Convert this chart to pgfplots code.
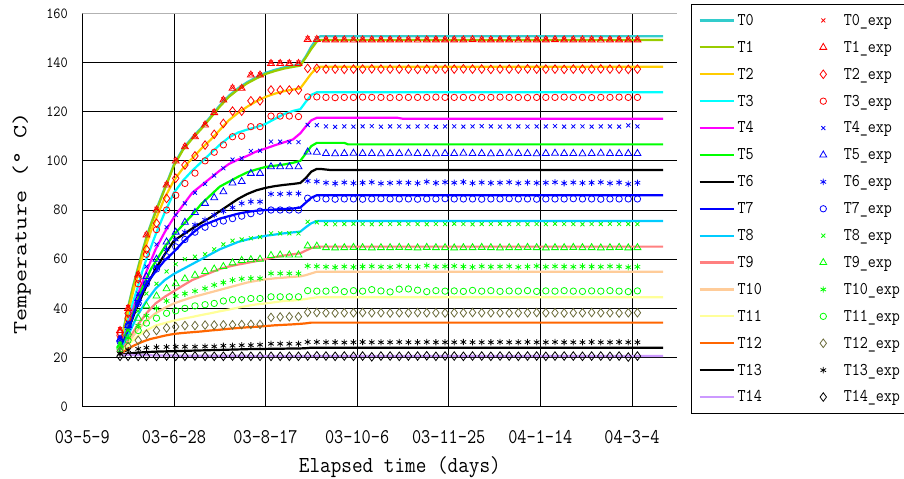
\documentclass[border=0pt]{standalone}
\usepackage{fontspec}
\usepackage{graphicx}
\usepackage{pgfplots}
\usepackage{pgfplotstable}
\pgfplotsset{compat=1.18}

% narrow typewriter face used for every label
\newcommand\cf[2][0.87]{\scalebox{#1}[1]{\ttfamily #2}}

% simulated curves
\definecolor{c0}{HTML}{33CCCC}
\definecolor{c1}{HTML}{99CC00}
\definecolor{c2}{HTML}{FFCC00}
\definecolor{c3}{HTML}{00FFFF}
\definecolor{c4}{HTML}{FF00FF}
\definecolor{c5}{HTML}{00FF00}
\definecolor{c6}{HTML}{000000}
\definecolor{c7}{HTML}{0000FF}
\definecolor{c8}{HTML}{00CCFF}
\definecolor{c9}{HTML}{FF8080}
\definecolor{c10}{HTML}{FFCC99}
\definecolor{c11}{HTML}{FFFF99}
\definecolor{c12}{HTML}{FF6600}
\definecolor{c13}{HTML}{000000}
\definecolor{c14}{HTML}{CC99FF}
% measured points
\definecolor{er}{HTML}{FF0000}
\definecolor{eb}{HTML}{0000FF}
\definecolor{eg}{HTML}{00FF00}
\definecolor{eo}{HTML}{6B6B3A}
\definecolor{ek}{HTML}{000000}

% days after 2003-05-09, simulated temperatures
\pgfplotstableread{
d t0 t1 t2 t3 t4 t5 t6 t7 t8 t9 t10 t11 t12 t13 t14
20 21 21 21 21 21 21 21 21 21 21 21 21 21 21 21
22.5 31.5 31 30 28 27 26.5 26 26 25 24 23.5 23 22.3 21.3 21
25 40.5 40 38 35 33 32 31 31 29 27 26 25 23.5 21.6 21
27.5 48.5 48 46 42 39 37.5 36 36.5 33 30 28.5 27 24.6 21.8 21
30 55.5 55 53 48 45 43 41 42 37 33 31 28.5 25.5 22 20.9
32.5 62.5 62 60 54.5 50 48 45 46 40 35.5 33 30 26.3 22.1 20.9
35 69 68.5 66 60 55 52 49 50 43 38 35 31 27 22.2 20.9
37.5 74.5 74 71.5 65 59.5 56 52.5 52.5 45.5 40 36.5 32 27.6 22.3 20.9
40 79.5 79 76 70 64 59 56 55 48 42 38 33 28 22.4 20.8
45 89 88.5 85 79 71 65 62 59.5 51.5 44.7 40.2 34 28.9 22.5 20.8
50 98.5 98 92 87 77 70 67.5 63 54 47 42 35 29.6 22.6 20.8
55 105 104.5 97 92 82 74 70 67 56 49.3 43.3 35.8 30 22.7 20.7
60 109.5 109 101 96 87 78 72.5 70.5 58 51.5 44.5 36.5 30.3 22.8 20.7
65 113.5 113 105 99.5 90 82.5 74.8 73.5 60 53 45.5 37.3 30.6 22.9 20.7
70 118 117.5 108.5 103 93 86 77 75 62 54.5 46.5 38 31 23 20.7
75 122.5 122 112.5 106.5 96 89.5 79.5 76.5 64 56 47.5 38.8 31.3 23.1 20.7
80 126.5 126 116.5 109.5 98.7 91.5 82 77.5 65.5 57 48.5 39.5 31.7 23.2 20.7
85 129.5 129 119.5 111.5 100.5 93.5 84.5 78.5 67 57.8 49.5 40.3 32 23.3 20.7
90 132 131.5 122 112.7 102 95.3 86.5 79.2 68 58.5 50.5 41 32.3 23.4 20.7
95 134 133.5 124.2 113.7 103.8 96.5 88 79.7 68.8 59.2 51.2 41.6 32.5 23.5 20.6
100 135.8 135.3 126 115 105 97.5 89 80 69.5 60 51.8 42 32.8 23.5 20.6
105 137 136.5 127.3 117 106.3 98 89.7 80.2 70 60.8 52.2 42.5 33.1 23.6 20.6
110 138 137.5 128.3 119 107.5 98.5 90.2 80.4 70.5 61.5 52.5 43 33.3 23.6 20.6
115 138.7 138.2 129 120.3 108.7 99.2 90.6 80.6 70.9 62 52.8 43.2 33.5 23.7 20.6
119 139.2 138.7 129.5 121 111.2 100 91 81 71.2 62.4 53 43.5 33.7 23.7 20.6
122 142.5 142 132.5 124 114 103 93 83 73 63.5 53.5 43.8 33.9 23.8 20.6
125 146.5 145.5 135.5 126.8 116.5 106 95.6 85 74.6 64.5 54.2 44.2 34.2 24 20.6
128 149.8 148.5 137.8 127.9 117.5 107.3 96.7 86 75.5 65.1 54.9 44.5 34.2 24 20.6
130 150.7 149.1 138.3 127.9 117.5 107.3 96.7 86 75.5 65.1 54.9 44.5 34.2 24 20.6
135 150.7 149.1 138.3 127.9 117.5 107.3 96.3 86 75.5 65.1 54.9 44.5 34.2 24 20.6
143 150.7 149.1 138.3 127.9 117.5 107.3 96.3 86 75.5 65.1 54.9 44.5 34.2 24 20.6
145 150.7 149.1 138.3 127.9 117.5 106.7 96.3 86 75.5 65.1 54.9 44.5 34.2 24 20.6
172 150.7 149.1 138.3 127.9 117.5 106.7 96.3 86 75.5 65.1 54.9 44.5 34.2 24 20.6
175 150.7 149.1 138.3 127.9 117.1 106.7 96.3 86 75.5 65.1 54.9 44.5 34.2 24 20.6
317 150.7 149.1 138.3 127.9 117.1 106.7 96.3 86 75.5 65.1 54.9 44.5 34.2 24 20.6
}\simtab

% days after 2003-05-09, measured temperatures
\pgfplotstableread{
d e0 e1 e2 e3 e4 e5 e6 e7 e8 e9 e10 e11 e12 e13 e14
20.6 31.5 31 30 29 28 27.5 27 26.5 25.5 25 24 23.5 22.5 21.5 20.5
25 40.5 40 38 36 34 33 32 33 31 30 28 27 24.5 23 20.5
30.5 54 53.6 52 50 46 44 42 42 39 36 33 31 27 23.5 20.5
35 70 69.8 64 62 57 53 50 50 46 41 37 34 29.5 24 20.5
40.5 80.5 80 74.6 72 66 60 57 56 50 45 40 36 31 24.2 20.5
46 90.5 90.2 84.7 80 73 67 64 61 55 48 43 38 32 24.3 20.6
51 100.3 99.9 92.9 86 78 71 68 65 58 50 45 39 32.5 24.4 20.5
56 106 105.7 98.3 90.8 82.7 75 71 68 60 52 46 40 33 24.4 20.5
61.5 110 109.8 102 95 87 79 74 71 61 53.5 47 41 33 24.4 20.6
67 115 114.6 106.4 100 90.6 82.7 76 73 62 55 48.1 41.5 33.2 24.5 20.5
72 120 119.6 110.8 103.5 94 85 78 74.5 64 56 49.5 42 33.2 24.5 20.5
77 125 124.7 115.2 106.5 97 87.4 79.5 75.5 66 57 50.5 43 33.3 24.8 20.5
82 129.8 129.5 120.2 109.8 100.5 91 81 76.5 67.5 58.5 51.5 43.5 33.3 24.8 20.6
87 129.8 129.5 120.2 110 101 91.6 82.7 77.5 68 59.5 52 43.5 33.4 25 20.5
92 135.2 134.9 124.4 113.9 104 94.9 83.4 78.5 68.5 59.8 52.2 44 33.5 25 20.5
97 135.2 134.9 124.4 113.9 104.1 94.9 83.4 79.5 69 60 52.2 44 33.5 25.2 20.5
103 140 139.6 128.8 118.2 107.8 97.6 86.5 80 70.5 61.5 54.2 44.7 36.3 25.6 20.5
108 140 139.6 128.8 118.2 107.8 97.6 86.5 80 70.5 61.7 54.2 44.7 36.5 25.6 20.5
113 140 139.6 128.8 118.2 107.6 97.6 86.7 80 70.5 61.7 54.2 44.7 36.6 25.6 20.5
118 140 139.6 128.8 118.0 107.6 97.6 86.7 80 70.5 61.7 54.2 44.7 36.6 25.6 20.5
123 149.8 149.4 137.6 126.0 114.6 103.6 91.8 84.8 75.2 65.4 57.2 47.2 38.4 26.3 20.6
128 149.8 149.4 137.6 126.0 114.5 103.5 91.6 84.7 75.0 65.3 57.1 47.0 38.3 26.3 20.7
133 149.6 149.2 137.3 125.8 114.0 103.0 91.1 84.5 74.3 64.7 56.9 47.0 38.2 26.2 20.6
138 149.6 149.2 137.3 125.7 113.8 102.9 90.8 84.4 74.2 64.6 56.7 47.5 38.1 26.2 20.5
143 149.6 149.2 137.2 125.8 114.0 103.0 91.2 84.5 74.3 64.7 57.0 46.8 38.2 26.1 20.6
148 149.5 149.1 137.3 125.8 113.9 103.1 90.9 84.5 74.4 64.8 56.8 47.2 38.2 26.2 20.5
153 149.6 149.2 137.3 125.9 114.0 103.0 91.1 84.4 74.3 64.7 57.0 47.0 38.3 26.3 20.6
158 149.6 149.2 137.4 125.8 114.1 103.0 91.3 84.5 74.2 64.6 57.1 47.6 38.2 26.2 20.3
163 149.6 149.2 137.3 125.8 113.9 102.9 90.8 84.6 74.3 64.7 56.9 47.1 38.2 26.2 20.6
168 149.6 149.2 137.3 125.7 114.0 103.0 91.0 84.5 74.3 64.7 56.8 46.7 38.1 26.2 20.6
173 149.5 149.2 137.3 125.8 114.0 103.0 91.2 84.5 74.4 64.8 57.2 47.8 38.2 26.3 20.5
178 149.6 149.2 137.3 125.8 113.9 103.1 91.1 84.5 74.3 64.7 57.0 47.9 38.2 26.2 20.6
183 149.6 149.1 137.2 125.8 114.0 103.0 90.9 84.4 74.3 64.6 56.9 47.4 38.3 26.2 20.6
188 149.6 149.2 137.3 125.8 114.0 103.0 91.5 84.5 74.2 64.8 57.4 46.8 38.2 26.3 20.7
193 149.6 149.2 137.3 125.9 113.8 102.9 91.0 84.5 74.3 64.7 56.9 47.2 38.2 26.2 20.5
198 149.5 149.2 137.3 125.8 114.0 103.0 91.3 84.6 74.3 64.7 57.1 47.0 38.1 26.2 20.6
203 149.6 149.2 137.3 125.8 114.0 103.0 91.1 84.5 74.4 64.6 57.2 47.1 38.2 26.2 20.6
208 149.6 149.2 137.4 125.8 113.9 103.1 91.4 84.5 74.3 64.7 57.0 46.9 38.2 26.3 20.5
213 149.6 149.3 137.3 125.7 114.0 103.0 90.9 84.5 74.2 64.7 56.8 47.3 38.3 26.2 20.6
218 149.6 149.2 137.3 125.8 114.1 103.0 91.2 84.4 74.3 64.8 57.1 47.0 38.2 26.2 20.6
223 149.5 149.2 137.2 125.8 114.0 102.9 91.0 84.5 74.3 64.7 56.9 47.2 38.2 26.2 20.5
228 149.6 149.2 137.3 125.9 113.9 103.0 91.1 84.5 74.4 64.6 57.0 46.9 38.2 26.3 20.6
233 149.6 149.2 137.3 125.8 114.0 103.1 91.3 84.6 74.3 64.7 57.1 47.1 38.1 26.2 20.6
238 149.6 149.1 137.3 125.8 114.0 103.0 90.9 84.5 74.3 64.7 56.8 47.0 38.2 26.2 20.5
243 149.6 149.2 137.4 125.7 113.9 103.0 91.2 84.5 74.2 64.8 57.0 47.2 38.2 26.3 20.6
248 149.5 149.2 137.3 125.8 114.0 102.9 91.0 84.4 74.3 64.7 57.2 46.9 38.3 26.2 20.6
253 149.6 149.2 137.3 125.8 114.0 103.0 91.1 84.5 74.3 64.6 56.9 47.1 38.2 26.2 20.5
258 149.6 149.3 137.3 125.8 114.1 103.1 91.3 84.5 74.4 64.7 57.1 47.0 38.2 26.3 20.6
263 149.6 149.2 137.2 125.9 113.9 103.0 90.9 84.5 74.3 64.7 57.0 47.2 38.1 26.2 20.6
268 149.6 149.2 137.3 125.8 114.0 103.0 91.2 84.6 74.3 64.8 56.9 47.0 38.2 26.2 20.6
273 149.5 149.2 137.3 125.8 114.0 102.9 91.0 84.5 74.2 64.7 57.1 46.9 38.2 26.2 20.5
278 149.6 149.2 137.3 125.7 113.9 103.0 91.1 84.5 74.3 64.7 57.0 47.1 38.3 26.3 20.6
283 149.6 149.1 137.4 125.8 114.0 103.1 91.3 84.4 74.3 64.6 56.9 47.0 38.2 26.2 20.6
288 149.6 149.2 137.3 125.8 114.0 103.0 90.9 84.5 74.4 64.7 57.1 47.2 38.2 26.2 20.5
293 149.6 149.2 137.3 125.9 113.9 103.0 91.2 84.5 74.3 64.8 57.0 47.0 38.1 26.3 20.6
298 149.5 149.2 137.2 125.8 114.4 103.0 90.6 84.5 74.3 64.6 56.7 46.8 38.2 26.2 20.2
303 149.6 149.2 137.3 125.8 114.0 103.0 91.1 84.5 74.3 64.7 56.9 47.1 38.2 26.2 20.6
}\exptab

\pgfplotsset{
  sim/.style={forget plot, line width=2.2bp, mark=none},
  meas/.style={forget plot, only marks, mark options={solid, line width=0.8bp}},
  simleg/.style={line width=2.2bp,
    legend image code/.code={\draw[##1] (0bp,0bp) -- (34bp,0bp);}},
  measleg/.style={mark options={solid, line width=0.8bp},
    legend image code/.code={\path (0bp,0bp) (34bp,0bp);
      \draw[##1, only marks] plot coordinates {(17bp,0bp)};}},
  mX/.style={mark=x, mark size=2.8bp},
  mT/.style={mark=triangle, mark size=4bp},
  mD/.style={mark=diamond, mark size=4.3bp},
  mO/.style={mark=o, mark size=3.2bp},
  mA/.style={mark=asterisk, mark size=3.2bp},
}

\begin{document}
\begin{tikzpicture}
\useasboundingbox (-82.3bp,-72.3bp) rectangle (821.7bp,406.7bp);
\begin{axis}[
  at={(0bp,0bp)}, anchor=south west,
  scale only axis, width=594.7bp, height=393.4bp,
  xmin=0, xmax=324.6, ymin=0, ymax=160,
  xtick={0,50,...,300},
  xticklabels={\cf[0.85]{03-5-9},\cf[0.85]{03-6-28},\cf[0.85]{03-8-17},
    \cf[0.85]{03-10-6},\cf[0.85]{03-11-25},\cf[0.85]{04-1-14},\cf[0.85]{04-3-4}},
  ytick={0,20,...,160},
  yticklabel={\cf[0.9]{\pgfmathprintnumber[assume math mode=true]{\tick}}},
  major tick length=0pt,
  axis lines*=left,
  axis line style={-, black, line width=1bp},
  grid=major,
  grid style={black, line width=0.8bp},
  xticklabel style={font=\fontsize{21}{21}\selectfont, anchor=center, yshift=-30.3bp},
  yticklabel style={font=\fontsize{15.5}{15.5}\selectfont, anchor=east, inner sep=0pt, xshift=-14.3bp},
  every axis x label/.style={at={(axis description cs:0.534,-0.153)}, anchor=center,
    font=\fontsize{23}{23}\selectfont},
  every axis y label/.style={at={(axis description cs:-0.1019,0.4657)}, anchor=center,
    rotate=90, font=\fontsize{20}{20}\selectfont},
  xlabel={\cf[0.9]{Elapsed time (days)}},
  ylabel={\cf[1.27]{Temperature (° C)}},
  legend columns=2,
  legend cell align=left,
  legend style={
    at={(axis description cs:1.0235,1.0236)}, anchor=north west,
    draw=black, line width=1bp, fill=white,
    inner xsep=7bp, inner ysep=2.5bp, row sep=0bp,
    font=\fontsize{18}{18}\selectfont,
    nodes={inner xsep=3bp, inner ysep=0bp, minimum height=26.9bp},
    /tikz/column 2/.style={column sep=41bp},
  },
]
% simulated curves
\addplot[sim, c0]  table[x=d, y=t0]  {\simtab};
\addplot[sim, c1]  table[x=d, y=t1]  {\simtab};
\addplot[sim, c2]  table[x=d, y=t2]  {\simtab};
\addplot[sim, c3]  table[x=d, y=t3]  {\simtab};
\addplot[sim, c4]  table[x=d, y=t4]  {\simtab};
\addplot[sim, c5]  table[x=d, y=t5]  {\simtab};
\addplot[sim, c6]  table[x=d, y=t6]  {\simtab};
\addplot[sim, c7]  table[x=d, y=t7]  {\simtab};
\addplot[sim, c8]  table[x=d, y=t8]  {\simtab};
\addplot[sim, c9]  table[x=d, y=t9]  {\simtab};
\addplot[sim, c10] table[x=d, y=t10] {\simtab};
\addplot[sim, c11] table[x=d, y=t11] {\simtab};
\addplot[sim, c12] table[x=d, y=t12] {\simtab};
\addplot[sim, c13] table[x=d, y=t13] {\simtab};
\addplot[sim, c14] table[x=d, y=t14] {\simtab};
% measurements
\addplot[meas, er, mX] table[x=d, y=e0]  {\exptab};
\addplot[meas, er, mT] table[x=d, y=e1]  {\exptab};
\addplot[meas, er, mD] table[x=d, y=e2]  {\exptab};
\addplot[meas, er, mO] table[x=d, y=e3]  {\exptab};
\addplot[meas, eb, mX] table[x=d, y=e4]  {\exptab};
\addplot[meas, eb, mT] table[x=d, y=e5]  {\exptab};
\addplot[meas, eb, mA] table[x=d, y=e6]  {\exptab};
\addplot[meas, eb, mO] table[x=d, y=e7]  {\exptab};
\addplot[meas, eg, mX] table[x=d, y=e8]  {\exptab};
\addplot[meas, eg, mT] table[x=d, y=e9]  {\exptab};
\addplot[meas, eg, mA] table[x=d, y=e10] {\exptab};
\addplot[meas, eg, mO] table[x=d, y=e11] {\exptab};
\addplot[meas, eo, mD] table[x=d, y=e12] {\exptab};
\addplot[meas, ek, mA] table[x=d, y=e13] {\exptab};
\addplot[meas, ek, mD] table[x=d, y=e14] {\exptab};
% top frame
\draw[color=gray!60, line width=1bp] (rel axis cs:0,1) -- (rel axis cs:1,1);
% legend, one row per sensor
\addlegendimage{simleg, c0}\addlegendentry{\cf{T0}}
\addlegendimage{measleg, er, mX}\addlegendentry{\cf{T0\_exp}}
\addlegendimage{simleg, c1}\addlegendentry{\cf{T1}}
\addlegendimage{measleg, er, mT}\addlegendentry{\cf{T1\_exp}}
\addlegendimage{simleg, c2}\addlegendentry{\cf{T2}}
\addlegendimage{measleg, er, mD}\addlegendentry{\cf{T2\_exp}}
\addlegendimage{simleg, c3}\addlegendentry{\cf{T3}}
\addlegendimage{measleg, er, mO}\addlegendentry{\cf{T3\_exp}}
\addlegendimage{simleg, c4}\addlegendentry{\cf{T4}}
\addlegendimage{measleg, eb, mX}\addlegendentry{\cf{T4\_exp}}
\addlegendimage{simleg, c5}\addlegendentry{\cf{T5}}
\addlegendimage{measleg, eb, mT}\addlegendentry{\cf{T5\_exp}}
\addlegendimage{simleg, c6}\addlegendentry{\cf{T6}}
\addlegendimage{measleg, eb, mA}\addlegendentry{\cf{T6\_exp}}
\addlegendimage{simleg, c7}\addlegendentry{\cf{T7}}
\addlegendimage{measleg, eb, mO}\addlegendentry{\cf{T7\_exp}}
\addlegendimage{simleg, c8}\addlegendentry{\cf{T8}}
\addlegendimage{measleg, eg, mX}\addlegendentry{\cf{T8\_exp}}
\addlegendimage{simleg, c9}\addlegendentry{\cf{T9}}
\addlegendimage{measleg, eg, mT}\addlegendentry{\cf{T9\_exp}}
\addlegendimage{simleg, c10}\addlegendentry{\cf{T10}}
\addlegendimage{measleg, eg, mA}\addlegendentry{\cf{T10\_exp}}
\addlegendimage{simleg, c11}\addlegendentry{\cf{T11}}
\addlegendimage{measleg, eg, mO}\addlegendentry{\cf{T11\_exp}}
\addlegendimage{simleg, c12}\addlegendentry{\cf{T12}}
\addlegendimage{measleg, eo, mD}\addlegendentry{\cf{T12\_exp}}
\addlegendimage{simleg, c13}\addlegendentry{\cf{T13}}
\addlegendimage{measleg, ek, mA}\addlegendentry{\cf{T13\_exp}}
\addlegendimage{simleg, c14}\addlegendentry{\cf{T14}}
\addlegendimage{measleg, ek, mD}\addlegendentry{\cf{T14\_exp}}
\end{axis}
\end{tikzpicture}
\end{document}
